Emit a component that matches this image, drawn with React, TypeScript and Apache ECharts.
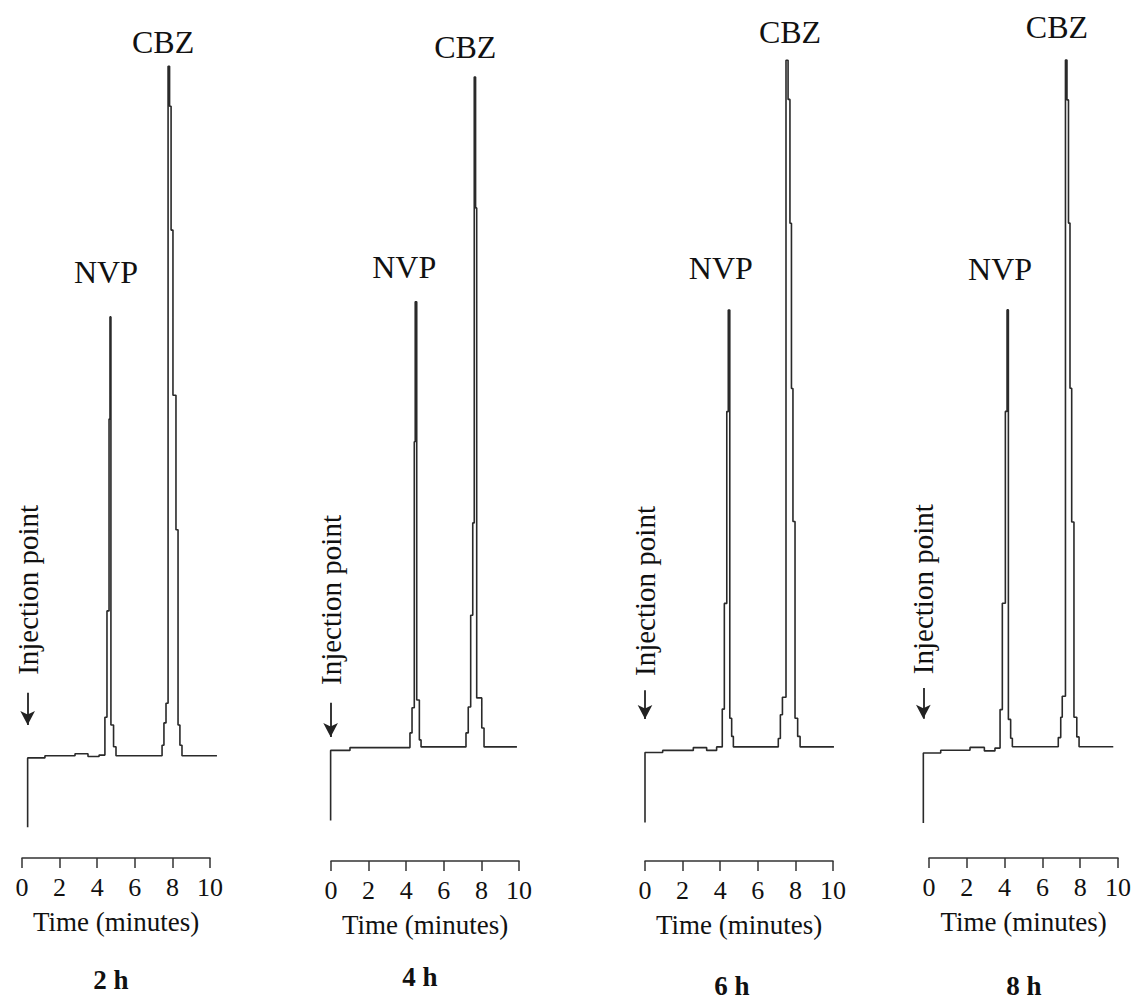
import React, { useEffect, useRef } from "react";
import * as echarts from "echarts";

// Sampling-time labels under each chromatogram
const panelTitles = ["2 h", "4 h", "6 h", "8 h"];
const timeTicks = [0, 2, 4, 6, 8, 10];
const peakNames = ["NVP", "CBZ"];

// Detector traces as [time (min), signal] change points; each value holds until the next point
const trace2h: [number, number][] = [
  [0.3, 4.4], [0.3, 14.3], [1.22, 14.6], [2.82, 14.9], [3.51, 14.5], [4.1, 14.7],
  [4.41, 20.1], [4.52, 35.3], [4.63, 62.7], [4.68, 77.3], [4.73, 19.0], [4.87, 15.9], [5.0, 14.6],
  [7.45, 16.1], [7.55, 19.3], [7.66, 22.1], [7.77, 113.1], [7.85, 107.4], [7.93, 89.7],
  [8.03, 66.1], [8.19, 46.9], [8.3, 19.0], [8.4, 16.1], [8.51, 14.6], [10.37, 14.6],
];
const trace4h: [number, number][] = [
  [-0.02, 5.8], [-0.02, 15.8], [1.01, 16.2],
  [4.2, 18.3], [4.31, 21.9], [4.43, 59.9], [4.48, 79.9], [4.56, 23.0], [4.7, 17.3], [4.79, 16.3],
  [7.18, 18.3], [7.3, 22.0], [7.43, 35.1], [7.54, 48.3], [7.62, 112.0], [7.69, 93.3],
  [7.75, 23.3], [8.02, 19.0], [8.14, 16.3], [9.89, 16.3],
];
const trace6h: [number, number][] = [
  [0.0, 5.5], [0.0, 15.5], [0.94, 15.8], [2.57, 16.2], [3.28, 15.8], [3.81, 16.3],
  [4.11, 21.7], [4.22, 36.8], [4.35, 64.2], [4.43, 78.7], [4.51, 20.4], [4.61, 17.8], [4.7, 16.3],
  [7.09, 17.5], [7.2, 20.9], [7.31, 23.4], [7.5, 114.4], [7.61, 108.8], [7.71, 91.1],
  [7.79, 67.5], [7.87, 48.5], [7.98, 20.4], [8.12, 17.8], [8.25, 16.3], [10.05, 16.3],
];
const trace8h: [number, number][] = [
  [-0.3, 5.0], [-0.3, 15.0], [0.62, 15.4], [2.17, 15.8], [2.93, 15.3], [3.49, 15.7],
  [3.76, 21.2], [3.88, 36.4], [4.04, 63.8], [4.13, 78.3], [4.2, 19.8], [4.32, 17.1], [4.41, 15.9],
  [6.84, 17.2], [6.97, 20.1], [7.05, 23.1], [7.22, 114.0], [7.3, 108.3], [7.38, 90.7],
  [7.46, 67.1], [7.55, 48.0], [7.67, 20.1], [7.82, 17.3], [7.94, 15.9], [9.75, 15.9],
];
const traces = [trace2h, trace4h, trace6h, trace8h];

// Panel placement and annotation offsets (pixels), arrow / text levels in signal units
const panelLayout = [
  { left: 22, width: 188, axisY: 858, nvp: [-4, -45], cbz: [-5, -24], arrow: [23.6, 19.0], injText: 38.4, injDx: -0.7, titleX: 111, titleY: 980 },
  { left: 331, width: 188, axisY: 861, nvp: [-11, -35], cbz: [-9, -30], arrow: [22.6, 17.7], injText: 37.6, injDx: -2.2, titleX: 420, titleY: 977 },
  { left: 645, width: 188, axisY: 861, nvp: [-7.5, -42], cbz: [4, -28], arrow: [24.4, 20.3], injText: 38.3, injDx: 1.9, titleX: 732, titleY: 986 },
  { left: 929, width: 189, axisY: 858, nvp: [-7, -41], cbz: [-8.5, -33], arrow: [24.3, 19.9], injText: 38.6, injDx: -1.4, titleX: 1024, titleY: 986 },
];

// The trace plot of each panel reaches a little past the printed 0–10 min time axis
const PAD_MIN = 1;
const PLOT_HEIGHT = 840;
const SIGNAL_MAX = 120;

const FONT = "'Liberation Serif', 'Times New Roman', serif";
const INK = "#111";
const TRACE = "#2a2a2a";

function apex(trace: [number, number][], fromT: number, toT: number): [number, number] {
  let best: [number, number] = trace[0];
  let found = false;
  for (const p of trace) {
    if (p[0] >= fromT && p[0] < toT && (!found || p[1] > best[1])) {
      best = p;
      found = true;
    }
  }
  return best;
}

export default function App() {
  const ref = useRef<HTMLDivElement>(null);

  useEffect(() => {
    if (!ref.current) return;
    const chart = echarts.init(ref.current, undefined, { renderer: "svg" });

    const tMin = timeTicks[0];
    const tMax = timeTicks[timeTicks.length - 1];
    const span = tMax - tMin;

    const grids: any[] = [];
    const xAxes: any[] = [];
    const yAxes: any[] = [];
    const series: any[] = [];

    panelLayout.forEach((p, i) => {
      const pxPerMin = p.width / span;
      // grid 2i: trace plot (hidden axes, padded time range)
      grids.push({
        left: p.left - PAD_MIN * pxPerMin,
        width: p.width + 2 * PAD_MIN * pxPerMin,
        top: p.axisY - PLOT_HEIGHT,
        height: PLOT_HEIGHT,
      });
      xAxes.push({ type: "value", gridIndex: 2 * i, min: tMin - PAD_MIN, max: tMax + PAD_MIN, show: false });
      yAxes.push({ type: "value", gridIndex: 2 * i, min: 0, max: SIGNAL_MAX, show: false });

      // grid 2i+1: the printed time axis, 0–10 min
      grids.push({
        left: p.left,
        width: p.width,
        top: p.axisY - PLOT_HEIGHT,
        height: PLOT_HEIGHT,
      });
      xAxes.push({
        type: "value",
        gridIndex: 2 * i + 1,
        min: tMin,
        max: tMax,
        interval: timeTicks[1] - timeTicks[0],
        splitLine: { show: false },
        axisLine: { show: true, lineStyle: { color: "#333", width: 1.5 } },
        axisTick: { show: true, inside: false, length: 10, lineStyle: { color: "#333", width: 1.5 } },
        axisLabel: {
          showMinLabel: true,
          showMaxLabel: true,
          margin: 16,
          fontSize: 26,
          fontFamily: FONT,
          color: INK,
        },
        name: "Time (minutes)",
        nameLocation: "middle",
        nameGap: 50,
        nameTextStyle: { fontSize: 27, fontFamily: FONT, color: INK },
      });
      yAxes.push({ type: "value", gridIndex: 2 * i + 1, min: 0, max: SIGNAL_MAX, show: false });

      const trace = traces[i];
      const tInj = trace[0][0];
      const nvp = apex(trace, 0, 6);
      const cbz = apex(trace, 6, 12);
      series.push({
        type: "line",
        xAxisIndex: 2 * i,
        yAxisIndex: 2 * i,
        data: trace,
        step: "end",
        symbol: "none",
        showSymbol: false,
        clip: false,
        lineStyle: { color: TRACE, width: 1.6 },
        markLine: {
          silent: true,
          symbol: ["none", "arrow"],
          symbolSize: [11, 14],
          label: { show: false },
          lineStyle: { color: "#222", width: 1.8, type: "solid" },
          data: [[{ coord: [tInj, p.arrow[0]] }, { coord: [tInj, p.arrow[1]] }]],
        },
        markPoint: {
          silent: true,
          symbol: "circle",
          symbolSize: 1,
          itemStyle: { color: "rgba(0,0,0,0)" },
          label: {
            show: true,
            position: "inside",
            fontFamily: FONT,
            color: INK,
            fontSize: 32,
          },
          data: [
            { coord: nvp, label: { formatter: peakNames[0], offset: p.nvp } },
            { coord: cbz, label: { formatter: peakNames[1], offset: p.cbz } },
            {
              coord: [tInj, p.injText],
              label: { formatter: "Injection point", rotate: 90, fontSize: 29, offset: [p.injDx, 0] },
            },
          ],
        },
      });
    });

    const titles = panelLayout.map((p, i) => ({
      text: panelTitles[i],
      left: p.titleX,
      top: p.titleY,
      textAlign: "center",
      textVerticalAlign: "middle",
      padding: 0,
      textStyle: { fontSize: 27, fontWeight: "bold", fontFamily: FONT, color: INK },
    }));

    chart.setOption({
      animation: false,
      backgroundColor: "#ffffff",
      title: titles,
      grid: grids,
      xAxis: xAxes,
      yAxis: yAxes,
      series,
    });

    return () => chart.dispose();
  }, []);

  return (
    <div
      ref={ref}
      style={{ position: "absolute", left: 0, top: 0, width: 1138, height: 1003, background: "#fff" }}
    />
  );
}
